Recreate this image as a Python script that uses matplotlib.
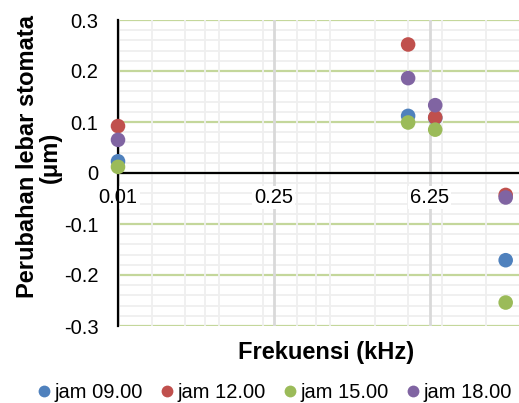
import matplotlib
matplotlib.use("Agg")
import matplotlib.pyplot as plt
from matplotlib.ticker import FixedLocator, MultipleLocator, NullFormatter
from matplotlib.lines import Line2D

plt.rcParams["font.family"] = ["Liberation Sans", "DejaVu Sans"]

# frequency (kHz) and change of stomata width (um) per measurement hour
freq = [0.01, 4, 7, 30]
jam09 = [0.023, 0.112, 0.108, -0.171]
jam12 = [0.092, 0.252, 0.109, -0.043]
jam15 = [0.012, 0.099, 0.085, -0.254]
jam18 = [0.065, 0.186, 0.133, -0.048]
series_names = ["jam 09.00", "jam 12.00", "jam 15.00", "jam 18.00"]
colors = ["#4f81bd", "#c0504d", "#9bbb59", "#8064a2"]

x_ticks = [0.01, 0.25, 6.25]
x_ticklabels = ["0.01", "0.25", "6.25"]
x_minor = [0.02, 0.04, 0.06, 0.08, 0.2, 0.4, 0.6, 0.8, 2, 4, 8, 20]
y_ticks = [-0.3, -0.2, -0.1, 0, 0.1, 0.2, 0.3]
y_ticklabels = ["-0.3", "-0.2", "-0.1", "0", "0.1", "0.2", "0.3"]

fig = plt.figure(figsize=(5.19, 4.03), dpi=100)
ax = fig.add_axes([118 / 519, 77 / 403, 401 / 519, 306 / 403])

ax.set_xscale("log", base=25)
ax.set_xlim(0.01, 39.5)
ax.set_ylim(-0.3, 0.3)

ax.xaxis.set_major_locator(FixedLocator(x_ticks))
ax.xaxis.set_major_formatter(NullFormatter())
ax.xaxis.set_minor_locator(FixedLocator(x_minor))
ax.xaxis.set_minor_formatter(NullFormatter())
ax.yaxis.set_major_locator(FixedLocator(y_ticks))
ax.set_yticklabels(y_ticklabels)
ax.yaxis.set_minor_locator(MultipleLocator(0.02))

ax.tick_params(which="both", length=0)
ax.tick_params(axis="y", labelsize=14.5, pad=14)

ax.grid(which="minor", color="#efefef", lw=1.3)
ax.grid(which="major", axis="x", color="#d9d9d9", lw=2.0)
ax.grid(which="major", axis="y", color="#c4d79b", lw=1.6)
ax.set_axisbelow(True)
ax.xaxis.set_zorder(0.6)

# x labels sit just under the zero line, on a white patch, like Excel
for t, lab in zip(x_ticks, x_ticklabels):
    ax.annotate(lab, xy=(t, 0), xytext=(0, -11), textcoords="offset points",
                ha="center", va="top", fontsize=14.5, zorder=2.2,
                bbox=dict(facecolor="white", edgecolor="none", pad=1.5))

for s in ["top", "right"]:
    ax.spines[s].set_visible(False)
ax.spines["bottom"].set_position(("data", 0))
ax.spines["bottom"].set_linewidth(1.6)
ax.spines["left"].set_linewidth(1.6)

for ys, c in zip([jam09, jam12, jam15, jam18], colors):
    ax.scatter(freq, ys, s=110, color=c, edgecolors="none", zorder=3, clip_on=False)

fig.text(326 / 519, 1 - 352 / 403, "Frekuensi (kHz)", fontsize=17, fontweight="bold",
         ha="center", va="center")
fig.text(39 / 519, 1 - 157 / 403, "Perubahan lebar stomata\n(\u03bcm)", fontsize=17,
         fontweight="bold", rotation=90, ha="center", va="center",
         multialignment="center", linespacing=1.0)

handles = [Line2D([], [], ls="none", marker="o", markersize=8.5, color=c,
                  markeredgecolor="none") for c in colors]
fig.legend(handles, series_names, loc="center", bbox_to_anchor=(275 / 519, 1 - 393 / 403),
           ncol=4, frameon=False, fontsize=14.5, handlelength=0.6, handletextpad=0.2,
           columnspacing=0.93, borderpad=0, borderaxespad=0)

fig.savefig("out.png", dpi=100)
